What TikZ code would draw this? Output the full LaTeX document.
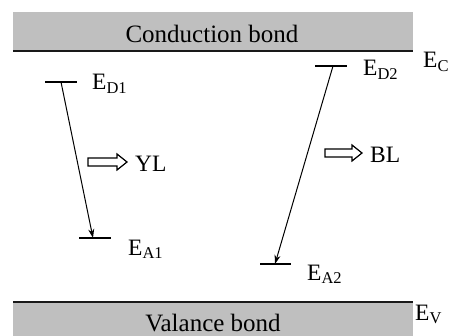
\documentclass[tikz,border=0pt]{standalone}
\usepackage{fontspec}
\setmainfont{Liberation Serif}
\usetikzlibrary{arrows.meta}
\newcommand{\lvlab}[2]{#1\raisebox{-0.32ex}{\fontsize{16.5}{16.5}\selectfont #2}}
\tikzset{
  band/.style={fill=black!25, draw=none},
  bandline/.style={line width=1.8pt, black!90},
  level/.style={line width=1.1pt},
  trans/.style={line width=1pt, -{Stealth[length=9pt,width=6pt]}},
  hollow/.style={draw, line width=1.2pt, fill=white},
  lbl/.style={anchor=base west, inner sep=0pt, font=\fontsize{23.5}{23.5}\selectfont},
  big/.style={anchor=base, inner sep=0pt, font=\fontsize{25}{25}\selectfont},
}
\begin{document}
\begin{tikzpicture}[x=1pt,y=-1pt]
\useasboundingbox (0,0) rectangle (449,336);
% bands
\fill[band] (13,12) rectangle (413,51);
\draw[bandline] (13,51) -- (413,51);
\fill[band] (13,302) rectangle (413,336);
\draw[bandline] (13,302) -- (413,302);
\node[big] (cb) at (212,43) {Conduction bond};
\node[big] (vb) at (213,331) {Valance bond};
\node[lbl] (ec) at (423,68) {\lvlab{E}{C}};
\node[lbl] (ev) at (415,320) {\lvlab{E}{V}};
% levels
\coordinate (d1l) at (45,82); \coordinate (d1r) at (77,82);
\coordinate (d2l) at (315,66); \coordinate (d2r) at (347,66);
\coordinate (a1l) at (79,238); \coordinate (a1r) at (111,238);
\coordinate (a2l) at (260,264); \coordinate (a2r) at (291,264);
\draw[level] (d1l) -- (d1r);
\draw[level] (d2l) -- (d2r);
\draw[level] (a1l) -- (a1r);
\draw[level] (a2l) -- (a2r);
\node[lbl] (ed1) at (92,90) {\lvlab{E}{D1}};
\node[lbl] (ed2) at (363,76) {\lvlab{E}{D2}};
\node[lbl] (ea1) at (128,255) {\lvlab{E}{A1}};
\node[lbl] (ea2) at (307,280) {\lvlab{E}{A2}};
% transitions
\coordinate (s1) at (61,82); \coordinate (t1) at (93,238);
\coordinate (s2) at (333,66); \coordinate (t2) at (275,264);
\draw[trans] (s1) -- (t1);
\draw[trans] (s2) -- (t2);
% hollow arrows
\draw[hollow] (88,158) -- (117,158) -- (117,154) -- (127,162) -- (117,170) -- (117,166) -- (88,166) -- cycle;
\node[lbl] (yl) at (135,172) {YL};
\draw[hollow] (325,149) -- (352,149) -- (352,145) -- (362,153) -- (352,161) -- (352,157) -- (325,157) -- cycle;
\node[lbl] (bl) at (370,163) {BL};
\end{tikzpicture}
\end{document}
